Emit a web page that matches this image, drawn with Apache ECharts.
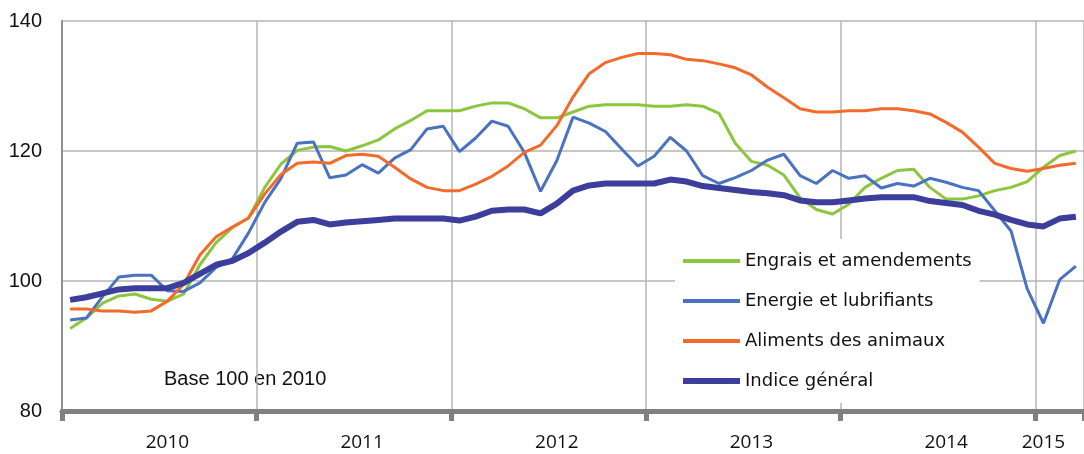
<!DOCTYPE html>
<html>
<head>
<meta charset="utf-8">
<script src="https://cdn.jsdelivr.net/npm/echarts@6/dist/echarts.min.js"></script>
<style>
  html, body { margin: 0; padding: 0; background: #fff; }
  #chart { width: 1084px; height: 454px; }
</style>
</head>
<body>
<div id="chart"></div>
<script>
// monthly index, base 100 in 2010 (Jan 2010 .. Mar 2015)
var years = ['2010', '2011', '2012', '2013', '2014', '2015'];
var monthsPerYear = [12, 12, 12, 12, 12, 3];
var months = [];
years.forEach(function (y, k) {
  for (var m = 1; m <= monthsPerYear[k]; m++) {
    months.push(y + '-' + (m < 10 ? '0' + m : m));
  }
});

var engrais = [
  92.7, 94.3, 96.6, 97.7, 98.0, 97.2, 96.9, 98.0, 102.5, 105.9, 108.2, 109.7,
  114.4, 118.0, 120.1, 120.6, 120.7, 120.0, 120.8, 121.7, 123.4, 124.7, 126.2, 126.2,
  126.2, 126.9, 127.4, 127.4, 126.5, 125.1, 125.1, 126.0, 126.9, 127.1, 127.1, 127.1,
  126.9, 126.9, 127.1, 126.9, 125.8, 121.2, 118.4, 117.8, 116.3, 112.8, 111.0, 110.3,
  111.8, 114.4, 115.8, 117.0, 117.2, 114.4, 112.6, 112.6, 113.1, 113.9, 114.4, 115.3,
  117.5, 119.3, 120.0
];
var energie = [
  94.0, 94.3, 97.6, 100.6, 100.9, 100.9, 98.5, 98.4, 99.7, 102.1, 103.4, 107.4,
  112.1, 115.8, 121.2, 121.4, 115.9, 116.3, 117.9, 116.6, 118.9, 120.2, 123.4, 123.8,
  119.9, 122.0, 124.6, 123.8, 119.8, 113.8, 118.5, 125.2, 124.3, 123.0, 120.3, 117.7,
  119.2, 122.1, 120.0, 116.2, 115.0, 115.9, 117.0, 118.6, 119.5, 116.2, 115.0, 117.0,
  115.8, 116.2, 114.3, 115.0, 114.6, 115.8, 115.2, 114.4, 113.9, 110.8, 107.7, 98.8,
  93.5, 100.2, 102.3
];
var aliments = [
  95.7, 95.7, 95.4, 95.4, 95.2, 95.4, 96.9, 99.5, 104.0, 106.8, 108.3, 109.7,
  113.4, 116.4, 118.1, 118.3, 118.1, 119.3, 119.5, 119.2, 117.5, 115.7, 114.4, 113.9,
  113.9, 114.9, 116.1, 117.7, 119.8, 120.9, 123.9, 128.3, 131.9, 133.6, 134.4, 135.0,
  135.0, 134.8, 134.1, 133.9, 133.4, 132.8, 131.7, 129.8, 128.2, 126.5, 126.0, 126.0,
  126.2, 126.2, 126.5, 126.5, 126.2, 125.7, 124.4, 122.9, 120.6, 118.1, 117.3, 116.9,
  117.3, 117.8, 118.1
];
var indice = [
  97.1, 97.5, 98.1, 98.7, 98.9, 98.9, 98.9, 99.7, 101.1, 102.5, 103.1, 104.3,
  105.9, 107.6, 109.1, 109.4, 108.7, 109.0, 109.2, 109.4, 109.6, 109.6, 109.6, 109.6,
  109.3, 109.9, 110.8, 111.0, 111.0, 110.4, 111.9, 113.9, 114.7, 115.0, 115.0, 115.0,
  115.0, 115.6, 115.3, 114.6, 114.3, 114.0, 113.7, 113.5, 113.2, 112.4, 112.1, 112.1,
  112.4, 112.7, 112.9, 112.9, 112.9, 112.3, 112.0, 111.7, 110.8, 110.2, 109.4, 108.7,
  108.4, 109.6, 109.9
];

var names = ['Engrais et amendements', 'Energie et lubrifiants', 'Aliments des animaux', 'Indice général'];
var colors = ['#8cc63e', '#4a72c0', '#f26b2a', '#3d3d9b'];
var widths = [3, 3, 3, 6];
// legend line icons: the invisible moves keep a 57x14 box so the bar keeps its thickness
var thinIcon = 'path://M0,0M57,14M0,5L57,5L57,9L0,9Z';
var thickIcon = 'path://M0,0M57,14M0,4L57,4L57,10L0,10Z';

var myChart = echarts.init(document.getElementById('chart'));

var option = {
  animation: false,
  backgroundColor: '#fff',
  grid: { left: 62, top: 21, right: -8, bottom: 43 },
  legend: {
    orient: 'vertical',
    left: 675,
    top: 239,
    padding: [13, 8, 13, 8],
    backgroundColor: '#fff',
    itemWidth: 57,
    itemHeight: 14,
    itemGap: 22,
    data: names.map(function (n, i) {
      return { name: n, icon: i === 3 ? thickIcon : thinIcon };
    }),
    textStyle: { fontFamily: 'DejaVu Sans', fontSize: 18, color: '#111' }
  },
  xAxis: {
    type: 'category',
    data: months,
    boundaryGap: true,
    axisLine: { show: true, lineStyle: { color: '#808080', width: 5 } },
    axisTick: {
      show: true,
      alignWithLabel: false,
      interval: function (idx) { return idx % 12 === 0; },
      length: 10,
      lineStyle: { color: '#808080', width: 5 }
    },
    axisLabel: {
      interval: function (idx) { return idx % 12 === 6 || idx === 60; },
      formatter: function (v) { return v.slice(0, 4); },
      margin: 22,
      fontFamily: 'Open Sans',
      fontSize: 19,
      color: '#111'
    },
    splitLine: {
      show: true,
      interval: function (idx) { return idx % 12 === 0; },
      lineStyle: { color: '#b4b4b4', width: 1.5 }
    }
  },
  yAxis: {
    type: 'value',
    min: 80,
    max: 140,
    interval: 20,
    axisLine: { show: true, lineStyle: { color: '#909090', width: 2 } },
    axisTick: { show: false },
    axisLabel: { margin: 20, fontFamily: 'Liberation Sans', fontSize: 20, color: '#111' },
    splitLine: { lineStyle: { color: '#b4b4b4', width: 1.5 } }
  },
  graphic: [{
    type: 'text',
    left: 164,
    top: 369,
    style: { text: 'Base 100 en 2010', font: '20px "Liberation Sans"', fill: '#111' }
  }],
  series: [engrais, energie, aliments, indice].map(function (d, i) {
    return {
      name: names[i],
      type: 'line',
      data: d,
      symbol: 'none',
      color: colors[i],
      lineStyle: { color: colors[i], width: widths[i] }
    };
  })
};

myChart.setOption(option);
</script>
</body>
</html>
